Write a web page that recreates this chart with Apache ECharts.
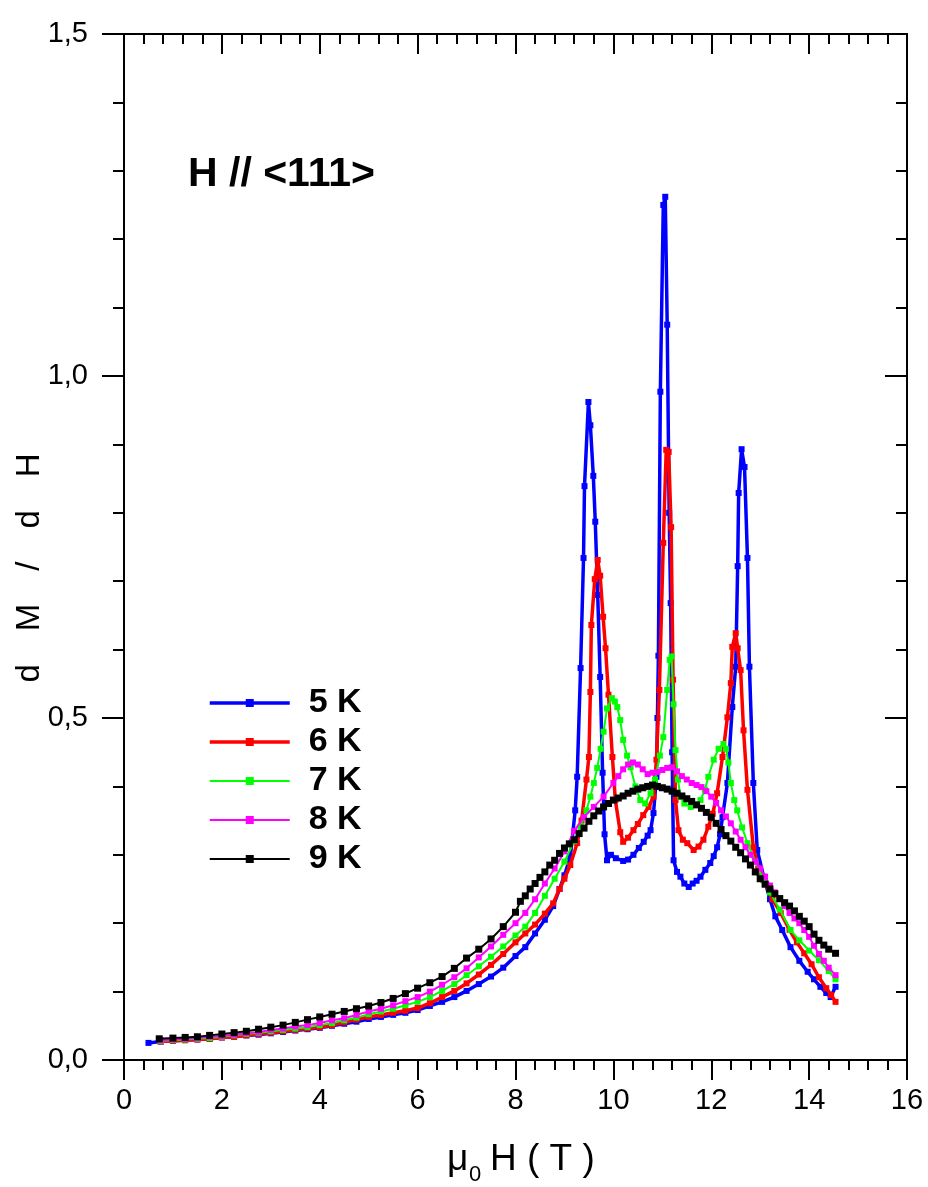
<!DOCTYPE html>
<html><head><meta charset="utf-8">
<script src="https://cdn.jsdelivr.net/npm/echarts@6/dist/echarts.min.js"></script>
<style>html,body{margin:0;padding:0;background:#fff}#chart{width:928px;height:1187px}</style>
</head><body><div id="chart"></div>
<script>
// ---- data (field in T, dM/dH) ----
const seriesNames = ['5 K', '6 K', '7 K', '8 K', '9 K'];
const seriesColors = ['#0000ff', '#ff0000', '#00ff00', '#ff00ff', '#000000'];
const xTicks = [0, 2, 4, 6, 8, 10, 12, 14, 16];
const yTicks = [0.0, 0.5, 1.0, 1.5];

const data5K = [
 [0.5,0.025],[0.75,0.027],[1.0,0.028],[1.25,0.029],[1.5,0.030],[1.75,0.031],[2.0,0.033],[2.25,0.034],[2.5,0.036],[2.75,0.037],
 [3.0,0.039],[3.25,0.041],[3.5,0.043],[3.75,0.045],[4.0,0.047],[4.25,0.050],[4.5,0.053],[4.75,0.056],[5.0,0.060],[5.25,0.063],
 [5.5,0.066],[5.75,0.069],[6.0,0.073],[6.25,0.079],[6.5,0.085],[6.75,0.092],[7.0,0.101],[7.25,0.111],[7.5,0.122],[7.75,0.135],
 [8.0,0.152],[8.2,0.165],[8.4,0.185],[8.6,0.205],[8.77,0.225],[8.9,0.25],[9.0,0.27],[9.12,0.297],[9.22,0.365],[9.26,0.414],
 [9.33,0.573],[9.39,0.734],[9.41,0.839],[9.49,0.962],[9.53,0.928],[9.59,0.854],[9.63,0.787],[9.68,0.68],[9.73,0.56],[9.78,0.42],
 [9.82,0.33],[9.87,0.292],[9.95,0.30],[10.05,0.295],[10.2,0.291],[10.3,0.293],[10.41,0.30],[10.52,0.31],[10.62,0.319],[10.7,0.328],
 [10.76,0.336],[10.82,0.361],[10.88,0.414],[10.9,0.50],[10.92,0.591],[10.96,0.977],[11.02,1.25],[11.06,1.262],[11.1,1.075],[11.14,0.80],
 [11.17,0.668],[11.2,0.45],[11.23,0.292],[11.3,0.275],[11.37,0.268],[11.45,0.258],[11.54,0.253],[11.62,0.258],[11.7,0.262],[11.78,0.268],
 [11.88,0.278],[11.98,0.288],[12.05,0.298],[12.12,0.311],[12.18,0.33],[12.23,0.355],[12.33,0.405],[12.43,0.516],[12.5,0.575],[12.54,0.722],
 [12.56,0.829],[12.62,0.893],[12.68,0.867],[12.74,0.734],[12.78,0.575],[12.86,0.405],[12.94,0.307],[13.07,0.268],[13.2,0.235],[13.31,0.21],
 [13.45,0.19],[13.62,0.165],[13.8,0.145],[13.97,0.129],[14.1,0.118],[14.23,0.107],[14.35,0.098],[14.44,0.092],[14.54,0.107]
];
const data6K = [
 [0.75,0.027],[1.0,0.028],[1.25,0.029],[1.5,0.030],[1.75,0.031],[2.0,0.033],[2.25,0.034],[2.5,0.036],[2.75,0.038],[3.0,0.040],
 [3.25,0.042],[3.5,0.044],[3.75,0.046],[4.0,0.048],[4.25,0.051],[4.5,0.055],[4.75,0.059],[5.0,0.063],[5.25,0.066],[5.5,0.069],
 [5.75,0.072],[6.0,0.076],[6.25,0.083],[6.5,0.092],[6.75,0.101],[7.0,0.112],[7.25,0.125],[7.5,0.139],[7.75,0.155],[8.0,0.172],
 [8.2,0.185],[8.4,0.198],[8.6,0.214],[8.77,0.229],[8.9,0.25],[9.0,0.265],[9.12,0.285],[9.26,0.317],[9.35,0.35],[9.45,0.41],
 [9.5,0.443],[9.53,0.538],[9.55,0.636],[9.62,0.703],[9.68,0.731],[9.73,0.708],[9.79,0.648],[9.84,0.602],[9.9,0.534],[9.98,0.443],
 [10.04,0.38],[10.14,0.333],[10.2,0.319],[10.3,0.325],[10.41,0.336],[10.5,0.345],[10.61,0.358],[10.72,0.37],[10.82,0.385],[10.88,0.439],
 [10.94,0.541],[11.02,0.756],[11.08,0.892],[11.13,0.889],[11.18,0.779],[11.22,0.556],[11.27,0.38],[11.33,0.336],[11.42,0.322],[11.51,0.317],
 [11.64,0.307],[11.74,0.312],[11.84,0.322],[11.94,0.341],[12.03,0.36],[12.12,0.39],[12.23,0.443],[12.33,0.501],[12.4,0.551],[12.43,0.604],
 [12.5,0.624],[12.54,0.602],[12.6,0.57],[12.66,0.482],[12.74,0.395],[12.86,0.311],[12.96,0.28],[13.07,0.263],[13.25,0.235],[13.42,0.215],
 [13.6,0.19],[13.75,0.172],[13.9,0.156],[14.05,0.14],[14.2,0.121],[14.35,0.105],[14.45,0.095],[14.54,0.085]
];
const data7K = [
 [0.75,0.028],[1.0,0.029],[1.25,0.030],[1.5,0.031],[1.75,0.032],[2.0,0.034],[2.25,0.036],[2.5,0.038],[2.75,0.040],[3.0,0.042],
 [3.25,0.044],[3.5,0.046],[3.75,0.048],[4.0,0.051],[4.25,0.054],[4.5,0.058],[4.75,0.062],[5.0,0.067],[5.25,0.071],[5.5,0.075],
 [5.75,0.080],[6.0,0.085],[6.25,0.092],[6.5,0.101],[6.75,0.111],[7.0,0.124],[7.25,0.137],[7.5,0.151],[7.75,0.166],[8.0,0.182],
 [8.2,0.195],[8.4,0.215],[8.6,0.24],[8.8,0.265],[9.0,0.29],[9.2,0.32],[9.33,0.341],[9.45,0.365],[9.53,0.385],[9.6,0.405],
 [9.67,0.427],[9.74,0.455],[9.8,0.48],[9.87,0.514],[9.97,0.529],[10.03,0.524],[10.08,0.516],[10.14,0.497],[10.2,0.468],[10.28,0.445],
 [10.35,0.428],[10.45,0.40],[10.55,0.38],[10.65,0.375],[10.76,0.39],[10.85,0.41],[10.95,0.445],[11.02,0.472],[11.1,0.541],[11.15,0.585],
 [11.19,0.59],[11.23,0.52],[11.27,0.453],[11.32,0.41],[11.37,0.385],[11.45,0.375],[11.58,0.37],[11.68,0.373],[11.78,0.38],[11.87,0.395],
 [11.94,0.414],[12.05,0.439],[12.15,0.455],[12.25,0.462],[12.3,0.455],[12.35,0.435],[12.4,0.405],[12.47,0.38],[12.53,0.365],[12.63,0.34],
 [12.74,0.317],[12.9,0.29],[13.07,0.263],[13.2,0.245],[13.4,0.22],[13.62,0.19],[13.8,0.175],[14.0,0.16],[14.2,0.146],[14.4,0.13],[14.54,0.118]
];
const data8K = [
 [0.75,0.029],[1.0,0.030],[1.25,0.031],[1.5,0.032],[1.75,0.034],[2.0,0.035],[2.25,0.037],[2.5,0.039],[2.75,0.041],[3.0,0.044],
 [3.25,0.046],[3.5,0.049],[3.75,0.051],[4.0,0.054],[4.25,0.058],[4.5,0.061],[4.75,0.066],[5.0,0.071],[5.25,0.075],[5.5,0.080],
 [5.75,0.086],[6.0,0.092],[6.25,0.100],[6.5,0.110],[6.75,0.121],[7.0,0.134],[7.25,0.150],[7.5,0.166],[7.75,0.183],[8.0,0.200],
 [8.2,0.215],[8.4,0.235],[8.6,0.258],[8.8,0.28],[9.0,0.305],[9.2,0.335],[9.4,0.355],[9.6,0.37],[9.8,0.385],[10.0,0.405],
 [10.1,0.415],[10.2,0.425],[10.3,0.432],[10.4,0.435],[10.5,0.432],[10.6,0.425],[10.7,0.418],[10.8,0.42],[10.9,0.421],[11.0,0.424],
 [11.1,0.427],[11.2,0.428],[11.3,0.422],[11.4,0.415],[11.5,0.41],[11.6,0.405],[11.7,0.402],[11.8,0.399],[11.9,0.393],[12.0,0.385],
 [12.1,0.376],[12.2,0.365],[12.3,0.356],[12.4,0.346],[12.5,0.334],[12.6,0.322],[12.7,0.311],[12.8,0.30],[12.9,0.29],[13.0,0.28],
 [13.1,0.268],[13.2,0.255],[13.3,0.245],[13.4,0.235],[13.5,0.225],[13.6,0.215],[13.7,0.207],[13.8,0.20],[13.9,0.19],[14.0,0.18],
 [14.1,0.167],[14.2,0.155],[14.3,0.145],[14.4,0.135],[14.54,0.124]
];
const data9K = [
 [0.72,0.031],[1.0,0.032],[1.25,0.033],[1.5,0.034],[1.75,0.036],[2.0,0.038],[2.25,0.040],[2.5,0.042],[2.75,0.045],[3.0,0.048],
 [3.25,0.051],[3.5,0.055],[3.75,0.059],[4.0,0.063],[4.25,0.067],[4.5,0.071],[4.75,0.075],[5.0,0.079],[5.25,0.084],[5.5,0.090],
 [5.75,0.097],[6.0,0.105],[6.25,0.113],[6.5,0.122],[6.75,0.134],[7.0,0.149],[7.25,0.162],[7.5,0.177],[7.75,0.195],[8.0,0.216],
 [8.1,0.232],[8.2,0.24],[8.3,0.25],[8.4,0.258],[8.5,0.267],[8.6,0.275],[8.7,0.285],[8.8,0.292],[8.9,0.302],[9.0,0.31],
 [9.1,0.316],[9.2,0.322],[9.3,0.331],[9.4,0.339],[9.5,0.349],[9.6,0.357],[9.7,0.364],[9.8,0.37],[9.9,0.375],[10.0,0.38],
 [10.1,0.383],[10.2,0.386],[10.3,0.39],[10.4,0.393],[10.5,0.396],[10.6,0.398],[10.7,0.40],[10.8,0.402],[10.9,0.40],[11.0,0.398],
 [11.1,0.396],[11.2,0.393],[11.3,0.39],[11.4,0.386],[11.5,0.382],[11.6,0.378],[11.7,0.373],[11.8,0.368],[11.9,0.362],[12.0,0.355],
 [12.1,0.346],[12.2,0.337],[12.3,0.328],[12.4,0.32],[12.5,0.311],[12.6,0.303],[12.7,0.294],[12.8,0.285],[12.9,0.275],[13.0,0.265],
 [13.1,0.257],[13.2,0.25],[13.3,0.243],[13.4,0.236],[13.5,0.23],[13.6,0.225],[13.7,0.218],[13.8,0.21],[13.9,0.203],[14.0,0.195],
 [14.1,0.184],[14.2,0.175],[14.3,0.168],[14.4,0.162],[14.54,0.156]
];
const allData = [data5K, data6K, data7K, data8K, data9K];
const lineWidths = [3.5, 3.5, 2, 2, 2];

const FONT = "'Liberation Sans', Arial, Helvetica, sans-serif";
const chart = echarts.init(document.getElementById('chart'), null, {renderer: 'canvas'});

function axisCommon(pos, inside, showLabel, isX) {
  return {
    type: 'value',
    position: pos,
    min: isX ? xTicks[0] : yTicks[0],
    max: isX ? xTicks[xTicks.length - 1] : yTicks[yTicks.length - 1],
    interval: isX ? (xTicks[1] - xTicks[0]) : (yTicks[1] - yTicks[0]),
    axisLine: {show: true, onZero: false, lineStyle: {color: '#000', width: 2}},
    axisTick: {show: true, inside: inside, length: isX ? 20 : 22, lineStyle: {color: '#000', width: 2}},
    minorTick: {show: true, splitNumber: 5, length: isX ? 10 : 11, lineStyle: {color: '#000', width: 2}},
    splitLine: {show: false},
    minorSplitLine: {show: false},
    axisLabel: {
      show: showLabel, color: '#000', fontSize: 29, fontFamily: FONT,
      margin: isX ? 26 : 36,
      formatter: isX ? (v => String(v)) : (v => v.toFixed(1).replace('.', ','))
    }
  };
}

const series = seriesNames.map((name, i) => ({
  name: name,
  type: 'line',
  data: allData[i],
  xAxisIndex: 0,
  yAxisIndex: 0,
  symbol: 'rect',
  symbolSize: i === 4 ? 7 : 6,
  showSymbol: true,
  showAllSymbol: true,
  color: seriesColors[i],
  lineStyle: {color: seriesColors[i], width: lineWidths[i]},
  itemStyle: {color: seriesColors[i]},
  emphasis: {disabled: true},
  animation: false,
  z: 2 + i
}));

chart.setOption({
  backgroundColor: '#fff',
  animation: false,
  grid: {left: 124, right: 21, top: 34, bottom: 127, containLabel: false},
  xAxis: [axisCommon('bottom', false, true, true), axisCommon('top', true, false, true)],
  yAxis: [axisCommon('left', false, true, false), axisCommon('right', true, false, false)],
  legend: {
    orient: 'vertical', left: 203, top: 681,
    itemWidth: 80, itemHeight: 10, itemGap: 5,
    selectedMode: false,
    textStyle: {fontSize: 34, fontWeight: 'bold', color: '#000', fontFamily: FONT, lineHeight: 30, padding: [0, 0, 0, 14]},
    data: seriesNames.map((n, i) => ({name: n, lineStyle: {width: lineWidths[i], color: seriesColors[i]}}))
  },
  graphic: [
    {type: 'text', x: 188, y: 175, style: {text: 'H // <111>', font: 'bold 41px ' + FONT, fill: '#000', align: 'left', verticalAlign: 'middle'}},
    {type: 'text', x: 30, y: 568, rotation: Math.PI / 2, style: {text: 'd\u2003M\u2003/\u2003d\u2003H', font: '33px ' + FONT, fill: '#000', align: 'center', verticalAlign: 'middle'}},
    {type: 'text', x: 447, y: 1160, style: {text: 'μ', font: '37px ' + FONT, fill: '#000', align: 'left', verticalAlign: 'middle'}},
    {type: 'text', x: 469, y: 1175, style: {text: '0', font: '22px ' + FONT, fill: '#000', align: 'left', verticalAlign: 'middle'}},
    {type: 'text', x: 490, y: 1160, style: {text: 'H ( T )', font: '37px ' + FONT, fill: '#000', align: 'left', verticalAlign: 'middle'}}
  ],
  series: series
});
</script>
</body></html>
